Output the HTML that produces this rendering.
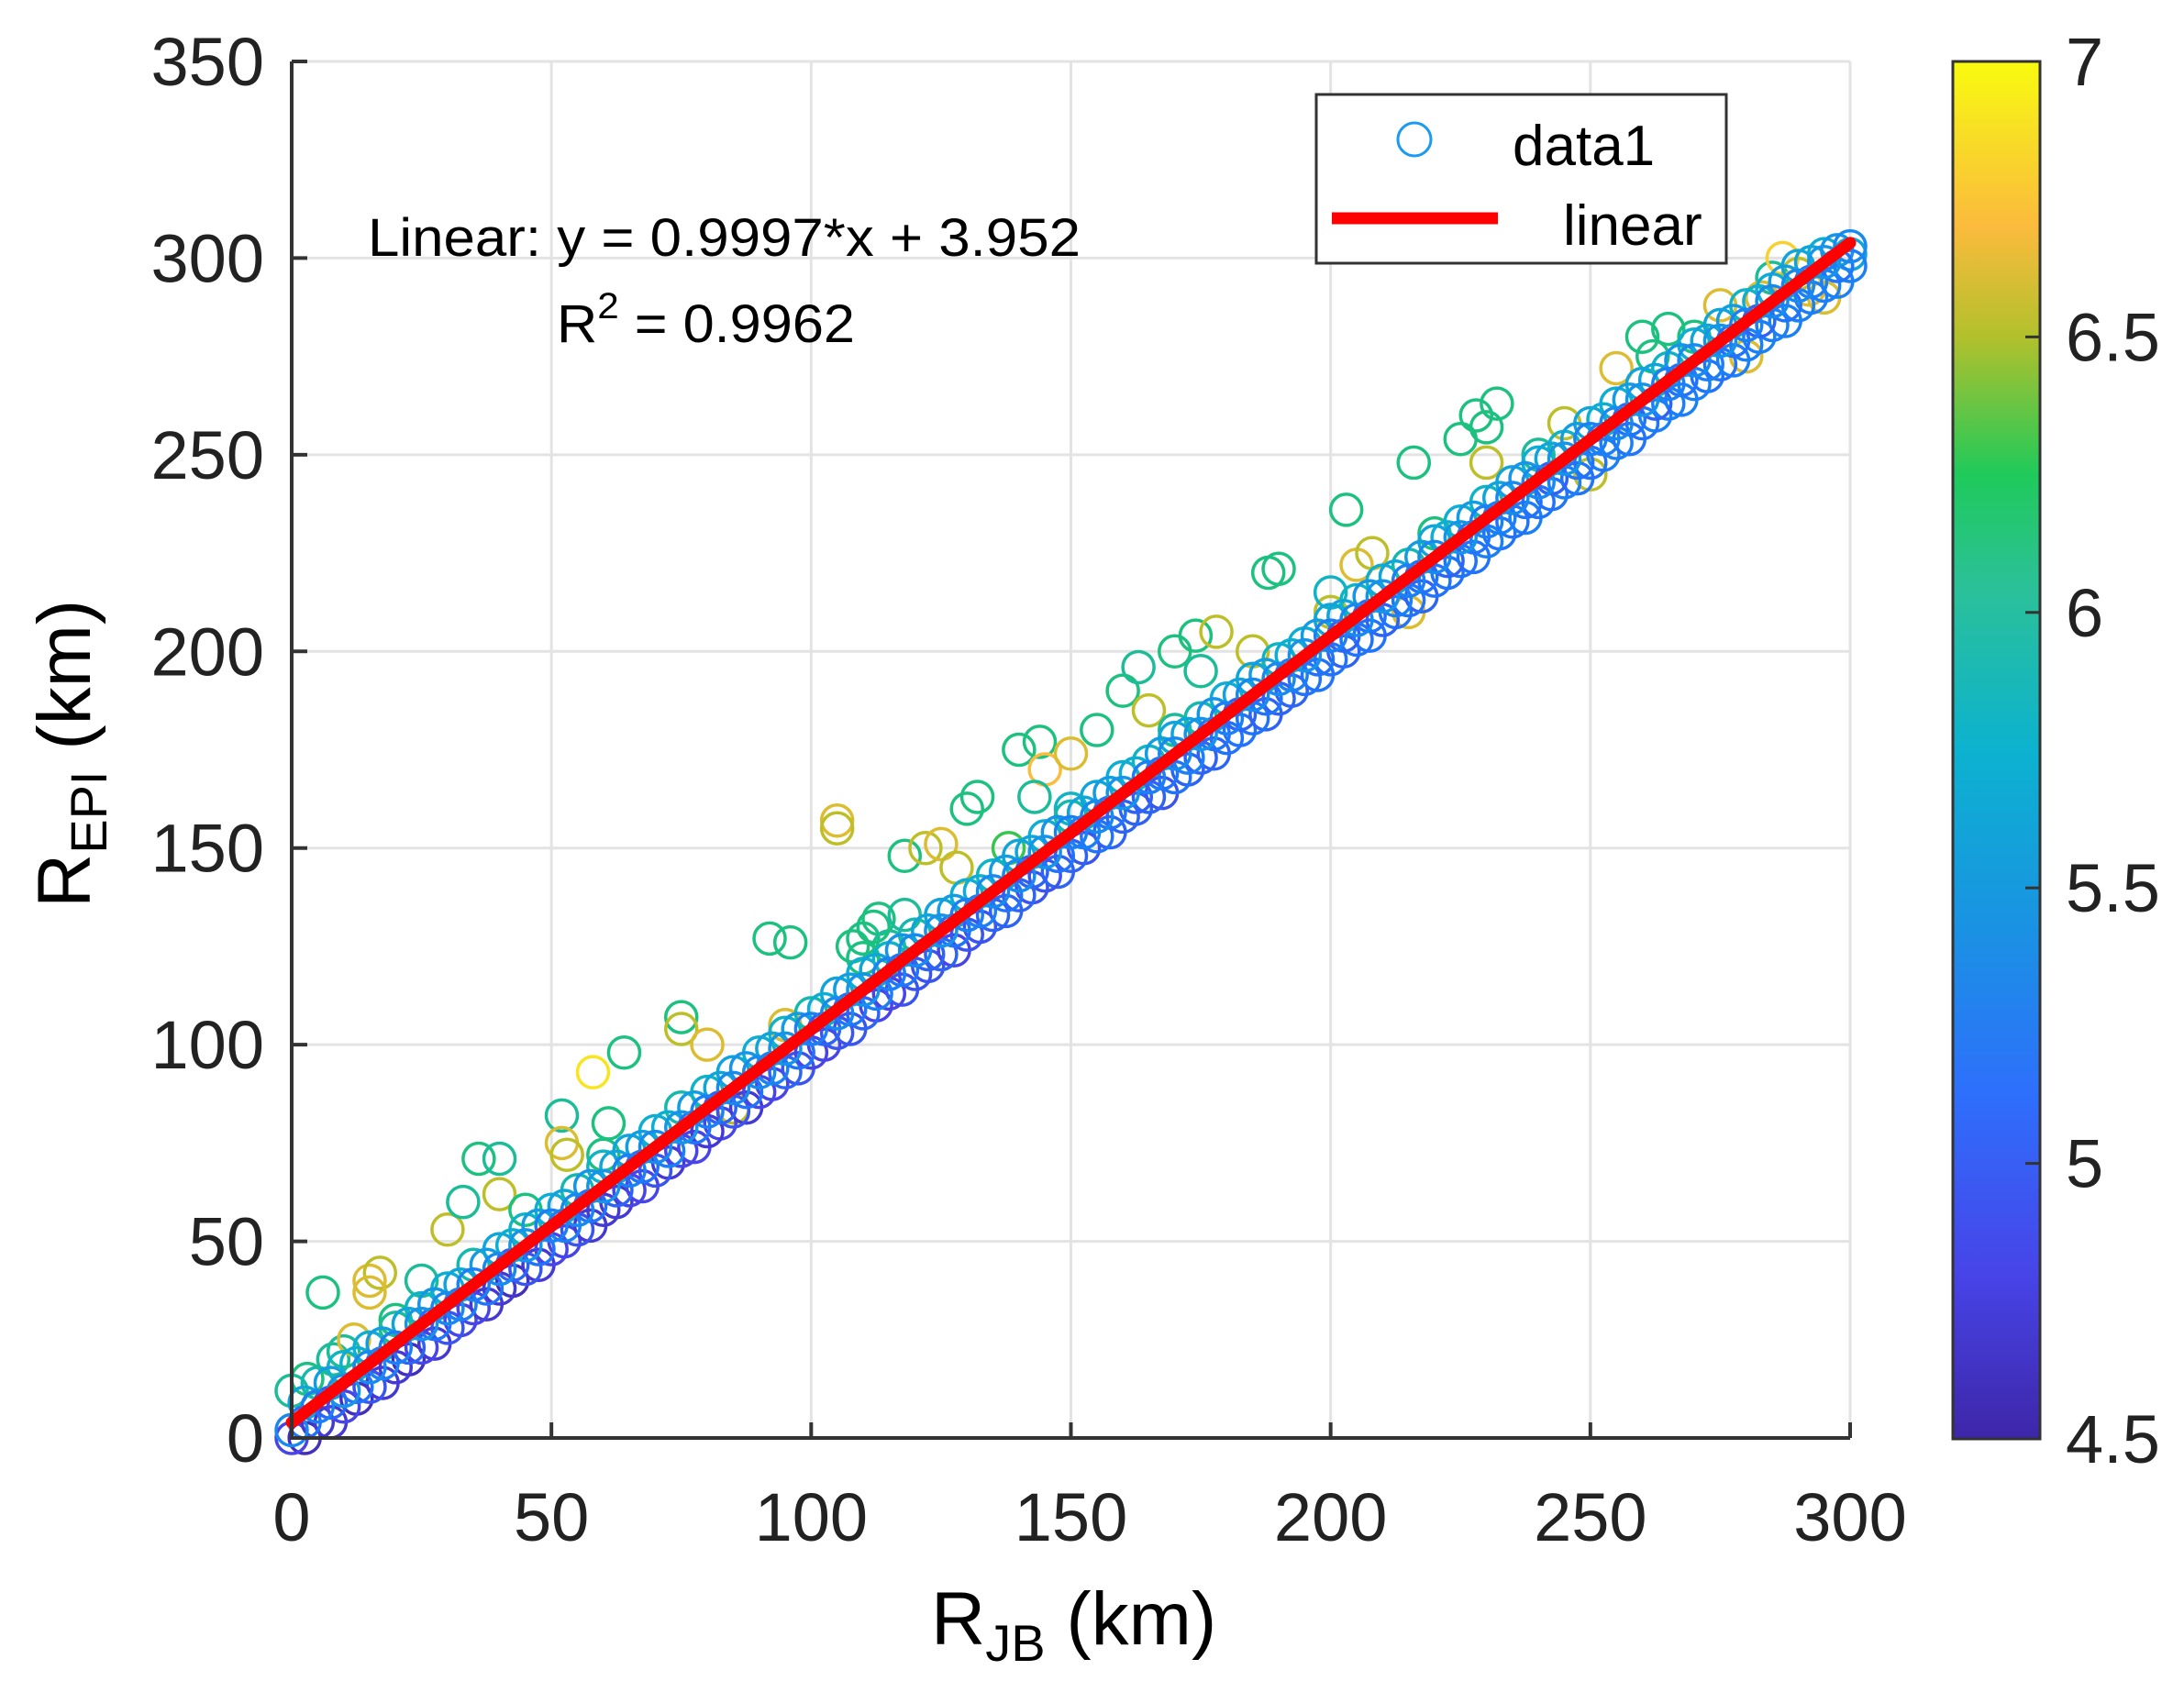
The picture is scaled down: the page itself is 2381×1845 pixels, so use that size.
<!DOCTYPE html>
<html><head><meta charset="utf-8"><style>
html,body{margin:0;padding:0;background:#fff;}
svg{display:block;font-family:"Liberation Sans",Arial,sans-serif;}
</style></head><body>
<svg id="chart" width="2381" height="1845" viewBox="0 0 2381 1845" xmlns="http://www.w3.org/2000/svg">
<defs>
<linearGradient id="parula" x1="0" y1="1" x2="0" y2="0">
<stop offset="0" stop-color="#3e26a8"/><stop offset="0.12" stop-color="#4744e8"/><stop offset="0.25" stop-color="#2e6ffc"/><stop offset="0.37" stop-color="#1a92e3"/><stop offset="0.5" stop-color="#0cb2cf"/><stop offset="0.62" stop-color="#2bc197"/><stop offset="0.7" stop-color="#1fca5a"/><stop offset="0.8" stop-color="#b2c02c"/><stop offset="0.88" stop-color="#fbbb3c"/><stop offset="0.95" stop-color="#f8df24"/><stop offset="1" stop-color="#f9fb0e"/>
</linearGradient>
</defs>
<g id="grid"></g>
<g id="points"></g>
<g id="fit"></g>
<g id="axes"></g>
<text x="401" y="279" font-size="58" textLength="777" lengthAdjust="spacingAndGlyphs">Linear:  y = 0.9997*x + 3.952</text>
<text x="607" y="373" font-size="58" textLength="325" lengthAdjust="spacingAndGlyphs">R<tspan dy="-26" font-size="40">2</tspan><tspan dy="26"> = 0.9962</tspan></text>
<g>
<rect x="1435" y="103" width="447" height="184" fill="#fff" stroke="#333" stroke-width="3"/>
<circle cx="1542" cy="152" r="18" fill="none" stroke="#1a9af0" stroke-width="3"/>
<text x="1649" y="180" font-size="62">data1</text>
<line x1="1452" y1="238" x2="1633" y2="238" stroke="#ff0000" stroke-width="13"/>
<text x="1704" y="267" font-size="62">linear</text>
</g>
<g>
<rect x="2129" y="67" width="95" height="1502" fill="url(#parula)" stroke="#333" stroke-width="3"/>
<g id="cbticks"></g>
</g>
<text x="1015" y="1793" font-size="82">R<tspan font-size="56" dy="18">JB</tspan><tspan dy="-18"> (km)</tspan></text>
<text transform="translate(98,990) rotate(-90)" font-size="82">R<tspan font-size="56" dy="18">EPI</tspan><tspan dy="-18"> (km)</tspan></text>
</svg>
<script>
const xTicks=[0,50,100,150,200,250,300];
const yTicks=[0,50,100,150,200,250,300,350];
const cbTicks=[4.5,5,5.5,6,6.5,7];
const fitSlope=0.9997;
const fitIntercept=3.952;
const coreX=[0,5,10,15,20,25,30,35,40,45,50,55,60,65,70,75,80,85,90,95,100,105,110,115,120,125,130,135,140,145,150,155,160,165,170,175,180,185,190,195,200,205,210,215,220,225,230,235,240,245,250,255,260,265,270,275,280,285,290,295,300];
const coreYa=[2,8,12,18,23,29,33,39,43,49,54,58,64,68,74,79,83,89,93,99,104,108,114,118,124,129,133,139,143,149,154,158,164,168,174,179,183,189,193,199,204,208,214,218,224,229,233,239,243,249,254,258,264,268,274,279,283,289,293,299,303];
const coreMa=[5.3,5.2,5.4,5.3,5.2,5.4,5.3,5.2,5.3,5.4,5.2,5.3,5.4,5.2,5.3,5.4,5.2,5.3,5.3,5.4,5.2,5.3,5.4,5.2,5.3,5.4,5.2,5.3,5.3,5.4,5.2,5.3,5.4,5.2,5.3,5.4,5.2,5.3,5.3,5.4,5.2,5.3,5.4,5.2,5.3,5.4,5.2,5.3,5.3,5.4,5.2,5.3,5.4,5.2,5.3,5.4,5.2,5.3,5.3,5.4,5.3];
const coreYb=[0,4,8,13,18,23,28,33,38,43,48,53,58,63,68,73,78,83,88,93,98,103,108,113,118,123,128,133,138,143,148,153,158,163,168,173,178,183,188,193,198,203,208,213,218,223,228,233,238,243,248,253,258,263,268,273,278,283,288,293,298];
const coreMb=[4.8,4.7,4.8,4.9,4.7,4.8,4.9,4.8,4.7,4.9,4.8,4.9,4.7,4.8,4.9,4.8,4.7,4.9,4.8,5.0,4.8,4.9,5.0,4.8,4.9,5.0,4.9,5.0,5.0,4.9,5.0,5.1,5.0,5.0,5.1,5.0,5.1,5.1,5.0,5.1,5.1,5.1,5.0,5.1,5.1,5.1,5.2,5.1,5.1,5.2,5.1,5.2,5.1,5.2,5.2,5.1,5.2,5.2,5.2,5.2,5.2];
const coreYc=[12,14,18,23,28,33,38,44,48,53,58,63,69,73,78,84,88,93,98,103,108,113,118,122,128,133,138,143,148,153,158,163,168,172,178,183,188,193,198,202,208,213,218,222,228,233,238,243,248,252,258,263,268,272,278,283,288,292,298,301,301];
const coreMc=[6.0,5.9,5.8,5.7,6.0,5.8,5.7,5.9,5.6,5.8,5.7,5.9,5.8,5.6,5.7,5.9,5.8,5.6,5.7,5.8,5.9,5.6,5.7,5.8,5.9,5.6,5.7,5.8,5.6,5.7,5.9,5.6,5.7,5.8,5.6,5.9,5.7,5.6,5.8,5.7,5.6,5.8,5.7,5.9,5.6,5.7,5.8,5.6,5.7,5.8,5.6,5.7,5.6,5.8,5.7,5.6,5.8,5.7,5.6,5.7,5.6];
const coreX2=[2.5,7.5,12.5,17.5,22.5,27.5,32.5,37.5,42.5,47.5,52.5,57.5,62.5,67.5,72.5,77.5,82.5,87.5,92.5,97.5,102.5,107.5,112.5,117.5,122.5,127.5,132.5,137.5,142.5,147.5,152.5,157.5,162.5,167.5,172.5,177.5,182.5,187.5,192.5,197.5,202.5,207.5,212.5,217.5,222.5,227.5,232.5,237.5,242.5,247.5,252.5,257.5,262.5,267.5,272.5,277.5,282.5,287.5,292.5,297.5];
const coreYd=[4,9,13,19,23,29,34,38,44,48,54,59,63,69,73,79,84,88,94,98,104,109,113,119,123,129,134,138,144,148,154,159,163,169,173,179,184,188,194,198,204,209,213,219,223,229,234,238,244,248,254,259,263,269,273,279,284,288,294,298];
const coreMd=[5.1,5.0,5.1,5.2,5.0,5.1,5.2,5.1,5.0,5.1,5.2,5.1,5.0,5.1,5.2,5.1,5.0,5.1,5.2,5.1,5.0,5.1,5.2,5.1,5.0,5.1,5.2,5.1,5.0,5.1,5.2,5.1,5.0,5.1,5.2,5.1,5.0,5.1,5.2,5.1,5.0,5.1,5.2,5.1,5.0,5.1,5.2,5.1,5.0,5.1,5.2,5.1,5.0,5.1,5.2,5.1,5.0,5.1,5.2,5.1];
const coreYe=[9,14,19,24,29,34,39,44,49,54,59,64,69,74,79,84,89,94,99,104,109,114,119,124,129,134,139,144,149,154,159,164,169,174,179,184,189,194,199,204,209,214,219,224,229,234,239,244,249,254,259,264,269,274,279,284,289,294,299,302];
const coreMe=[5.6,5.5,5.7,5.5,5.6,5.4,5.6,5.5,5.7,5.5,5.6,5.4,5.6,5.5,5.7,5.5,5.6,5.4,5.6,5.5,5.7,5.5,5.6,5.4,5.6,5.5,5.7,5.5,5.6,5.4,5.6,5.5,5.7,5.5,5.6,5.4,5.6,5.5,5.7,5.5,5.6,5.4,5.6,5.5,5.7,5.5,5.6,5.4,5.6,5.5,5.7,5.5,5.6,5.4,5.6,5.5,5.7,5.5,5.6,5.4];
const coreYf=[0,4,10,14,20,24,30,34,40,44,50,54,60,64,70,74,80,84,90,94,100,104,110,114,120,124,130,134,140,144,150,154,160,164,170,174,180,184,190,194,200,204,210,214,220,224,230,234,240,244,250,254,260,264,270,274,280,284,290,294];
const coreMf=[4.6,4.7,4.6,4.7,4.6,4.7,4.8,4.7,4.6,4.7,4.8,4.7,4.7,4.8,4.7,4.8,4.8,4.7,4.8,4.9,4.8,4.9,4.8,4.9,4.9,4.8,4.9,5.0,4.9,5.0,4.9,5.0,5.0,4.9,5.0,5.0,5.1,5.0,5.0,5.1,5.0,5.1,5.1,5.0,5.1,5.1,5.1,5.2,5.1,5.1,5.2,5.1,5.2,5.2,5.1,5.2,5.2,5.2,5.2,5.2];
const outX=[6,15,17,15,8,25,30,33,36,40,40,52,52,53,58,64,61,75,75,80,85,92,96,95,105,105,110,113,115,118,122,125,130,132,128,140,144,145,143,150,155,160,163,165,170,174,178,175,188,190,200,203,205,208,216,225,228,230,232,230,245,255,260,265,285,287,283,290,292,20,45,60,110,150,170,200,220,240,270,250,280,295,215,3,10,12,108,112,118,138,185,262,275];
const outY=[37,40,42,37,20,40,53,60,71,71,62,82,75,72,93,98,80,107,104,100,84,127,126,105,157,155,127,132,125,148,150,151,160,163,145,175,177,170,163,174,180,190,196,185,200,204,205,195,220,221,210,236,222,225,248,254,260,257,263,248,258,272,280,282,295,300,290,296,292,30,58,72,122,160,180,215,230,250,280,245,275,290,210,15,22,25,125,130,133,150,200,275,288];
const outM=[6.1,6.6,6.5,6.6,6.0,6.0,6.5,6.0,6.1,6.0,6.5,6.0,6.6,6.5,6.9,6.1,6.1,6.1,6.5,6.6,6.5,6.1,6.1,6.6,6.6,6.5,6.1,6.1,6.0,6.1,6.5,6.6,6.1,6.1,6.5,6.1,6.1,6.7,6.0,6.6,6.1,6.1,6.0,6.5,6.1,6.1,6.5,6.0,6.1,6.1,6.5,6.1,6.6,6.5,6.1,6.1,6.1,6.1,6.1,6.5,6.5,6.6,6.1,6.1,6.0,6.8,6.6,6.5,6.6,6.1,6.1,6.1,6.1,5.8,6.0,5.8,6.1,6.0,6.1,6.5,6.6,6.6,6.6,6.1,6.0,6.6,6.1,6.1,6.0,6.3,6.5,6.1,6.6];

const L=318,R=2017,T=67,B=1568;
const sx=v=>L+(v-0)/300*(R-L);
const sy=v=>B-(v-0)/350*(B-T);
const cbY=v=>1569-(v-4.5)/2.5*(1569-67);
const NS='http://www.w3.org/2000/svg';
function mk(tag,parent){const e=document.createElementNS(NS,tag);parent.appendChild(e);return e;}
const stops=[[4.5,[62,38,168]],[4.8,[71,68,232]],[5.125,[30,120,250]],[5.425,[20,150,230]],[5.75,[12,178,207]],[6.05,[30,190,140]],[6.25,[20,200,90]],[6.5,[190,190,40]],[6.7,[251,187,60]],[6.875,[248,223,36]],[7,[249,251,14]]];
function color(m){m=Math.max(4.5,Math.min(7,m));for(let i=0;i<stops.length-1;i++){const a=stops[i],b=stops[i+1];if(m<=b[0]){const t=(m-a[0])/(b[0]-a[0]);const c=a[1].map((v,k)=>Math.round(v+(b[1][k]-v)*t));return 'rgb('+c.join(',')+')';}}return 'rgb(249,251,14)';}

const grid=document.getElementById('grid');
xTicks.forEach(v=>{if(v===0)return;const l=mk('line',grid);l.setAttribute('x1',sx(v));l.setAttribute('x2',sx(v));l.setAttribute('y1',T);l.setAttribute('y2',B);l.setAttribute('stroke','#e3e3e3');l.setAttribute('stroke-width','3');});
yTicks.forEach(v=>{if(v===0)return;const l=mk('line',grid);l.setAttribute('x1',L);l.setAttribute('x2',R);l.setAttribute('y1',sy(v));l.setAttribute('y2',sy(v));l.setAttribute('stroke','#e3e3e3');l.setAttribute('stroke-width','3');});

const pts=document.getElementById('points');
function drawSet(xs,ys,ms,name){xs.forEach((x,i)=>{const c=mk('circle',pts);c.setAttribute('cx',sx(x));c.setAttribute('cy',sy(ys[i]));c.setAttribute('r','17');c.setAttribute('fill','none');c.setAttribute('stroke',color(ms[i]));c.setAttribute('stroke-width','3.5');});}
drawSet(outX,outY,outM,'outlier-point');
drawSet(coreX,coreYc,coreMc,'point');
drawSet(coreX2,coreYe,coreMe,'point');
drawSet(coreX2,coreYf,coreMf,'point');
drawSet(coreX,coreYb,coreMb,'point');
drawSet(coreX2,coreYd,coreMd,'point');
drawSet(coreX,coreYa,coreMa,'point');

const fit=document.getElementById('fit');
const fl=mk('line',fit);


fl.setAttribute('x1',sx(0));fl.setAttribute('y1',sy(fitIntercept));fl.setAttribute('x2',sx(300));fl.setAttribute('y2',sy(fitSlope*300+fitIntercept));
fl.setAttribute('stroke','#ff0000');fl.setAttribute('stroke-width','13');fl.setAttribute('stroke-linecap','round');

const ax=document.getElementById('axes');
const ay=mk('path',ax);


ay.setAttribute('d',`M${L},${T}V${B}H${R}`);ay.setAttribute('fill','none');ay.setAttribute('stroke','#333');ay.setAttribute('stroke-width','4');
xTicks.forEach(v=>{const t=mk('line',ax);t.setAttribute('x1',sx(v));t.setAttribute('x2',sx(v));t.setAttribute('y1',B);t.setAttribute('y2',B-17);t.setAttribute('stroke','#333');t.setAttribute('stroke-width','4');
const s=mk('text',ax);s.setAttribute('x',sx(v));s.setAttribute('y',1680);s.setAttribute('font-size','74');s.setAttribute('text-anchor','middle');s.setAttribute('fill','#222');s.textContent=v;});
yTicks.forEach(v=>{const t=mk('line',ax);t.setAttribute('x1',L);t.setAttribute('x2',L+17);t.setAttribute('y1',sy(v));t.setAttribute('y2',sy(v));t.setAttribute('stroke','#333');t.setAttribute('stroke-width','4');
const s=mk('text',ax);s.setAttribute('x',288);s.setAttribute('y',sy(v)+26);s.setAttribute('font-size','74');s.setAttribute('text-anchor','end');s.setAttribute('fill','#222');s.textContent=v;});
const cb=document.getElementById('cbticks');
cbTicks.forEach(v=>{const t=mk('line',cb);t.setAttribute('x1',2208);t.setAttribute('x2',2224);t.setAttribute('y1',cbY(v));t.setAttribute('y2',cbY(v));t.setAttribute('stroke','#333');t.setAttribute('stroke-width','3');
const s=mk('text',cb);s.setAttribute('x',2252);s.setAttribute('y',cbY(v)+26);s.setAttribute('font-size','74');s.setAttribute('fill','#222');s.textContent=v;});
</script>
</body></html>
